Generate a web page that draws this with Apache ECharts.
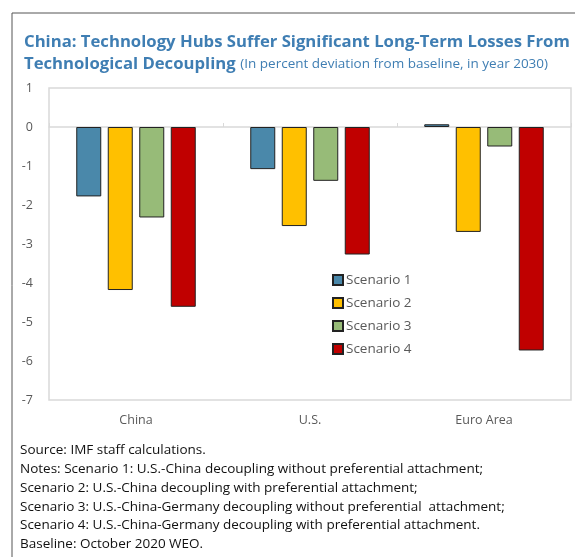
<!DOCTYPE html>
<html>
<head>
<meta charset="utf-8">
<script src="https://cdn.jsdelivr.net/npm/echarts@6/dist/echarts.min.js"></script>
<style>
  html, body { margin: 0; padding: 0; background: #fff; }
  #main { width: 575px; height: 557px; }
</style>
</head>
<body>
<div id="main"></div>
<script>
// data
var categories = ['China', 'U.S.', 'Euro Area'];
var scenario1 = [-1.78, -1.08, 0.07];
var scenario2 = [-4.18, -2.54, -2.69];
var scenario3 = [-2.32, -1.38, -0.50];
var scenario4 = [-4.61, -3.27, -5.73];
var seriesNames = ['Scenario 1', 'Scenario 2', 'Scenario 3', 'Scenario 4'];
var notes = [
  'Source: IMF staff calculations.',
  'Notes: Scenario 1: U.S.-China decoupling without preferential attachment;',
  'Scenario 2: U.S.-China decoupling with preferential attachment;',
  'Scenario 3: U.S.-China-Germany decoupling without preferential  attachment;',
  'Scenario 4: U.S.-China-Germany decoupling with preferential attachment.',
  'Baseline: October 2020 WEO.'
];

var font = "'Open Sans', 'Noto Sans', sans-serif";
var colors = ['#4a88aa', '#ffc000', '#97bb78', '#c00000'];
var allData = [scenario1, scenario2, scenario3, scenario4];

var chart = echarts.init(document.getElementById('main'));

var series = [];
for (var i = 0; i < allData.length; i++) {
  series.push({
    name: seriesNames[i],
    type: 'bar',
    data: allData[i],
    barWidth: 25,
    barGap: '26%',
    itemStyle: {
      color: colors[i],
      borderColor: '#222',
      borderWidth: 1
    }
  });
}

var option = {
  animation: false,
  textStyle: { fontFamily: font },
  title: {
    left: 24,
    top: 31,
    padding: 0,
    text: '{b|China: Technology Hubs Suffer Significant Long-Term Losses From}\n{b|Technological Decoupling} {s|(In percent deviation from baseline, in year 2030)}',
    textStyle: {
      rich: {
        b: { fontFamily: font, fontWeight: 'bold', fontSize: 16.7, color: '#3f7eb3', lineHeight: 22 },
        s: { fontFamily: font, fontWeight: 'normal', fontSize: 13.5, color: '#3f7eb3', lineHeight: 22 }
      }
    }
  },
  legend: {
    data: seriesNames,
    orient: 'vertical',
    left: 327,
    top: 268,
    icon: 'rect',
    itemWidth: 10,
    itemHeight: 10,
    itemGap: 9,
    textStyle: { fontFamily: font, fontSize: 13.5, color: '#595959', padding: [0, 0, 0, -2] }
  },
  grid: {
    left: 49,
    right: 4,
    top: 88,
    bottom: 157,
    show: true,
    borderColor: '#d9d9d9',
    borderWidth: 1.5
  },
  xAxis: [
    {
      type: 'category',
      data: categories,
      axisLine: { show: false, onZero: false },
      axisTick: { show: false },
      axisLabel: { color: '#595959', fontSize: 12.5, margin: 14, fontFamily: font }
    },
    {
      type: 'category',
      data: categories,
      position: 'bottom',
      axisLine: { show: true, onZero: true, lineStyle: { color: '#d9d9d9', width: 1.5 } },
      axisTick: { show: true, inside: true, length: 4, lineStyle: { color: '#d9d9d9' } },
      axisLabel: { show: false }
    }
  ],
  yAxis: {
    type: 'value',
    min: -7,
    max: 1,
    interval: 1,
    axisLine: { show: false },
    axisTick: { show: false },
    splitLine: { show: false },
    axisLabel: { color: '#595959', fontSize: 12.5, margin: 16, fontFamily: font }
  },
  graphic: [
    {
      type: 'rect',
      shape: { x: 12, y: 13, width: 600, height: 600 },
      style: { fill: 'none', stroke: '#555', lineWidth: 1 },
      silent: true
    },
    {
      type: 'text',
      left: 20,
      top: 441,
      style: {
        text: notes.join('\n'),
        fontFamily: font,
        fontSize: 13.5,
        lineHeight: 18.8,
        fill: '#111'
      }
    }
  ],
  series: series
};

chart.setOption(option);
window.onresize = chart.resize;
</script>
</body>
</html>
